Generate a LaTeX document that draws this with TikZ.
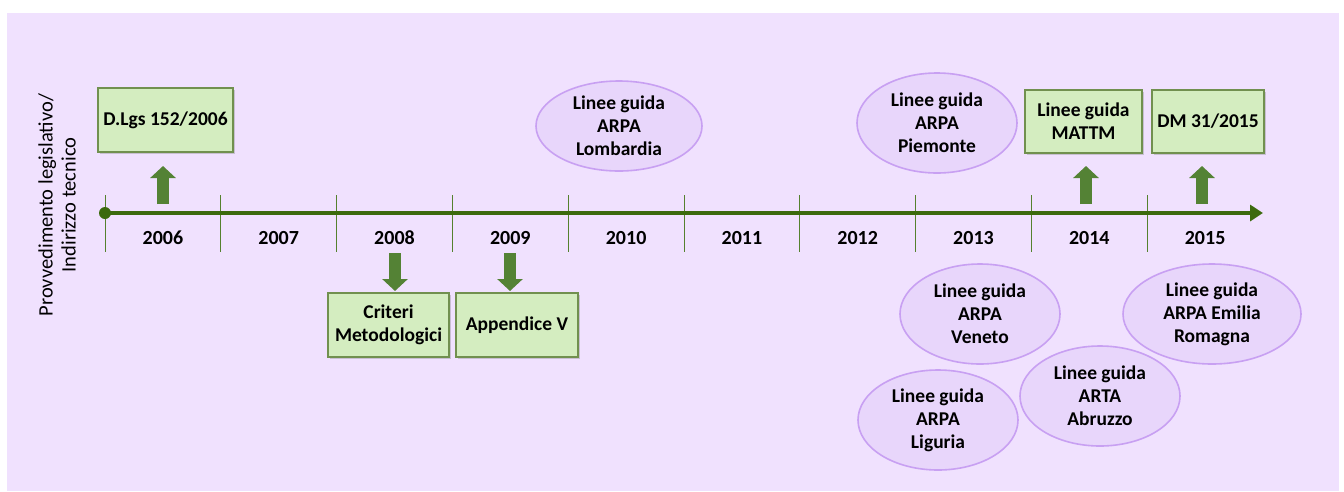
\documentclass[tikz,border=0pt]{standalone}
\usepackage{fontspec}
\setmainfont{Carlito}
\usetikzlibrary{arrows.meta,positioning,shapes.geometric,shadows}
\definecolor{sfondo}{HTML}{F0E1FE}
\definecolor{asseverde}{HTML}{3C6A0E}
\definecolor{tacca}{HTML}{55812E}
\definecolor{frecciaverde}{HTML}{548235}
\definecolor{boxverde}{HTML}{D4EDC0}
\definecolor{boxbordo}{HTML}{71904F}
\definecolor{ellviola}{HTML}{E8D6FB}
\definecolor{ellbordo}{HTML}{C8A0F2}

\begin{document}
\begin{tikzpicture}[x=1pt,y=-1pt,
  every node/.style={font=\fontsize{19.5}{23}\selectfont\bfseries,align=center},
  legge/.style={rectangle,draw=boxbordo,line width=2pt,fill=boxverde,inner sep=0pt,
    drop shadow={opacity=0.35,shadow xshift=2pt,shadow yshift=-2pt}},
  linee/.style={ellipse,draw=ellbordo,line width=1.6pt,fill=ellviola,inner sep=0pt},
  freccia/.style={draw=frecciaverde,line width=12pt,-{Triangle[width=25pt,length=12pt]}},
  anno/.style={font=\fontsize{20}{23}\selectfont\bfseries}]
\useasboundingbox (0,0) rectangle (1344,491);
\fill[sfondo] (7,13) rectangle (1339,491);

% asse dei tempi
\coordinate (t0) at (105,213);
\coordinate (tfine) at (1263,213);
\foreach \k [evaluate=\k as \xx using 105+\k*115.8,
             evaluate=\k as \aa using int(2006+\k)] in {0,...,9} {
  \draw[tacca,line width=1pt] (\xx,195) -- (\xx,252);
  \node[anno] (y\aa) at (\xx+57.9,238) {\aa};
}
\draw[asseverde,line width=4.5pt,-{Triangle[width=16pt,length=13pt]}] (t0) -- (tfine);
\fill[asseverde] (t0) circle (6pt);

\node[rotate=90,font=\fontsize{20.5}{23}\selectfont] (titolo) at (57,205)
  {Provvedimento legislativo/\\Indirizzo tecnico};

% provvedimenti
\node[legge,minimum width=135pt,minimum height=64pt] (dlgs) at (165.5,120) {D.Lgs 152/2006};
\node[legge,minimum width=121pt,minimum height=64pt] (criteri) at (388.5,325) {Criteri\\Metodologici};
\node[legge,minimum width=122pt,minimum height=64pt,right=5pt of criteri] (appendice) {Appendice V};
\node[legge,minimum width=117pt,minimum height=63pt] (mattm) at (1083.5,121.5) {Linee guida\\MATTM};
\node[legge,minimum width=112pt,minimum height=63pt] (dm) at (1208,121.5) {DM 31/2015};

% linee guida regionali
\node[linee,minimum width=166pt,minimum height=90pt] (lombardia) at (619,126) {Linee guida\\ARPA\\Lombardia};
\node[linee,minimum width=160pt,minimum height=100pt] (piemonte) at (937,123) {Linee guida\\ARPA\\Piemonte};
\node[linee,minimum width=160pt,minimum height=100pt] (veneto) at (980,314) {Linee guida\\ARPA\\Veneto};
\node[linee,minimum width=178pt,minimum height=100pt] (emilia) at (1212,314) {Linee guida\\ARPA Emilia\\Romagna};
\node[linee,minimum width=160pt,minimum height=100pt] (abruzzo) at (1100,396) {Linee guida\\ARTA\\Abruzzo};
\node[linee,minimum width=160pt,minimum height=100pt] (liguria) at (938,420) {Linee guida\\ARPA\\Liguria};

% frecce
\coordinate (f2006) at (163,204);
\coordinate (f2008) at (395,253);
\coordinate (f2009) at (510,253);
\coordinate (f2014) at (1086,204);
\coordinate (f2015) at (1202,204);
\draw[freccia,shorten >=13pt] (f2006) -- (f2006 |- dlgs.south);
\draw[freccia,shorten >=1pt] (f2008) -- (f2008 |- criteri.north);
\draw[freccia,shorten >=1pt] (f2009) -- (f2009 |- appendice.north);
\draw[freccia,shorten >=12pt] (f2014) -- (f2014 |- mattm.south);
\draw[freccia,shorten >=12pt] (f2015) -- (f2015 |- dm.south);
\end{tikzpicture}
\end{document}
